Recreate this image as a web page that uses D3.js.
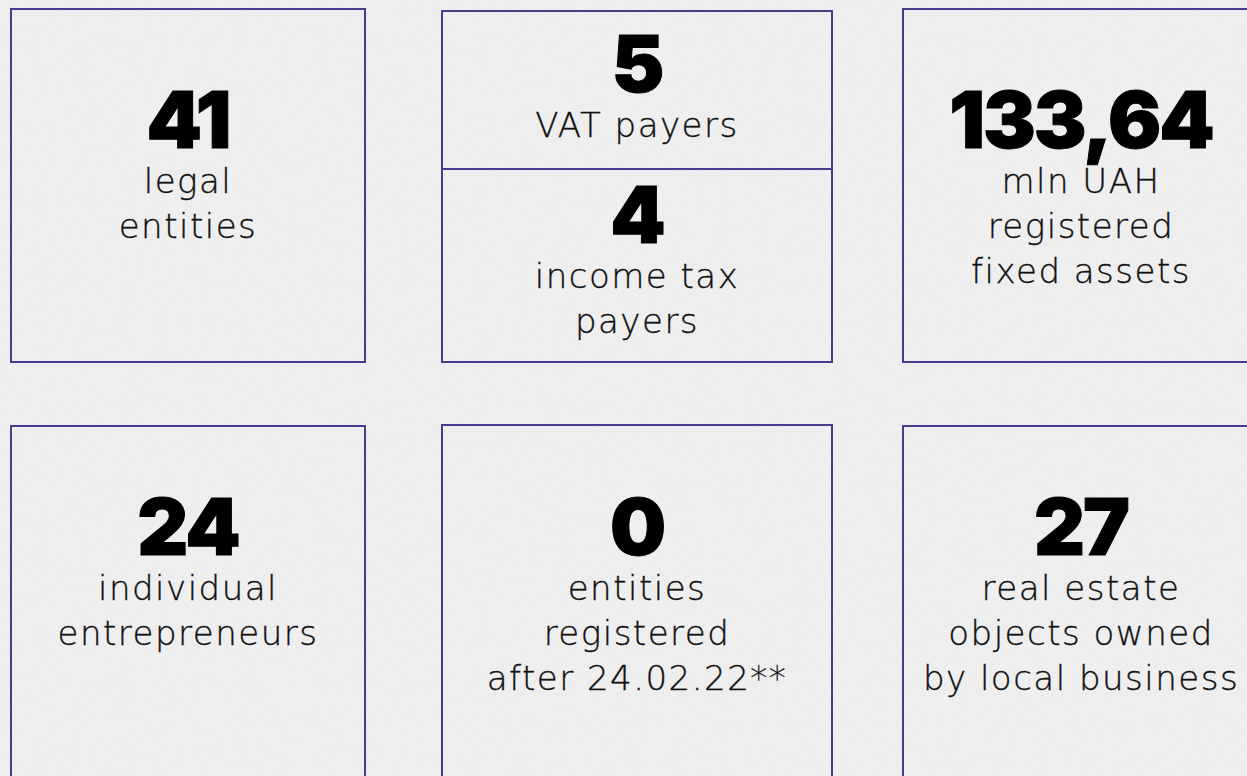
<!DOCTYPE html>
<html>
<head>
<meta charset="utf-8">
<script src="https://cdn.jsdelivr.net/npm/d3@7"></script>
<style>
  html, body { margin: 0; padding: 0; background: #f0eff0; overflow: hidden; }
  svg { display: block; }
</style>
</head>
<body>
<svg width="1247" height="776"></svg>
<script>
// figures shown in each panel
const numbers = ["41", "5", "4", "133,64", "24", "0", "27"];
const labels = [
  ["legal", "entities"],
  ["VAT payers"],
  ["income tax", "payers"],
  ["mln UAH", "registered", "fixed assets"],
  ["individual", "entrepreneurs"],
  ["entities", "registered", "after 24.02.22**"],
  ["real estate", "objects owned", "by local business"]
];
const columns = ["left", "middle", "right"];
const panelColumn = ["left", "middle", "middle", "right", "left", "middle", "right"];
const panelRow = [0, 0, 1, 0, 2, 2, 2];

const svg = d3.select("svg"),
      width = +svg.attr("width"),
      height = +svg.attr("height");

const purple = "#4c3b8c";

// paper-like speckle
const defs = svg.append("defs");
const f = defs.append("filter").attr("id", "grain")
  .attr("x", 0).attr("y", 0).attr("width", "100%").attr("height", "100%");
f.append("feTurbulence").attr("type", "fractalNoise")
  .attr("baseFrequency", 0.9).attr("numOctaves", 2).attr("seed", 4);
f.append("feColorMatrix").attr("type", "matrix")
  .attr("values", "0 0 0 0 0.55  0 0 0 0 0.55  0 0 0 0 0.57  0 0 0 -1.6 0.75");

svg.append("rect").attr("width", width).attr("height", height).attr("fill", "#f0eff0");
svg.append("rect").attr("width", width).attr("height", height)
  .attr("filter", "url(#grain)").attr("opacity", 0.35);

// column centres and box widths
const x = d3.scaleOrdinal().domain(columns).range([188, 637, 1081]);
const boxWidth = { left: 354, middle: 390, right: 356 };

// number baselines for the three "slots"
const baseline = d3.scaleOrdinal().domain([0, 1, 2]).range([148, 243, 555]);
const smallBaseline = { 1: 92 }; // VAT payers sits higher in the split box

// boxes
const boxes = [
  { col: "left", y0: 9, y1: 362 },
  { col: "middle", y0: 11, y1: 362 },
  { col: "right", y0: 9, y1: 362 },
  { col: "left", y0: 426, y1: 800 },
  { col: "middle", y0: 425, y1: 800 },
  { col: "right", y0: 426, y1: 800 }
];

svg.append("g").selectAll("rect")
  .data(boxes)
  .join("rect")
  .attr("x", d => x(d.col) - boxWidth[d.col] / 2)
  .attr("y", d => d.y0)
  .attr("width", d => boxWidth[d.col])
  .attr("height", d => d.y1 - d.y0)
  .attr("fill", "none")
  .attr("stroke", purple)
  .attr("stroke-width", 2);

// divider inside the middle top box
svg.append("line")
  .attr("x1", x("middle") - boxWidth.middle / 2)
  .attr("x2", x("middle") + boxWidth.middle / 2)
  .attr("y1", 169).attr("y2", 169)
  .attr("stroke", purple).attr("stroke-width", 2);

const panels = numbers.map((n, i) => ({
  number: n,
  lines: labels[i],
  cx: x(panelColumn[i]),
  by: smallBaseline[i] !== undefined ? smallBaseline[i] : baseline(panelRow[i])
}));

const g = svg.append("g").selectAll("g")
  .data(panels)
  .join("g");

g.append("text")
  .attr("x", d => d.cx)
  .attr("y", d => d.by)
  .attr("text-anchor", "middle")
  .style("font-family", "Inter, 'Noto Sans', sans-serif")
  .style("font-weight", 900)
  .style("font-size", "79px")
  .style("letter-spacing", "-2px")
  .attr("fill", "#000")
  .attr("stroke", "#000")
  .attr("stroke-width", 1)
  .text(d => d.number);

g.append("text")
  .attr("text-anchor", "middle")
  .style("font-family", "'DejaVu Sans', sans-serif")
  .style("font-weight", 200)
  .style("font-size", "34px")
  .style("letter-spacing", "1.5px")
  .attr("fill", "#111")
  .attr("stroke", "#111")
  .attr("stroke-width", 0.35)
  .selectAll("tspan")
  .data(d => d.lines.map((l, k) => ({ l, k, cx: d.cx, by: d.by })))
  .join("tspan")
  .attr("x", d => d.cx)
  .attr("y", d => d.by + 45 * (d.k + 1))
  .text(d => d.l);
</script>
</body>
</html>
